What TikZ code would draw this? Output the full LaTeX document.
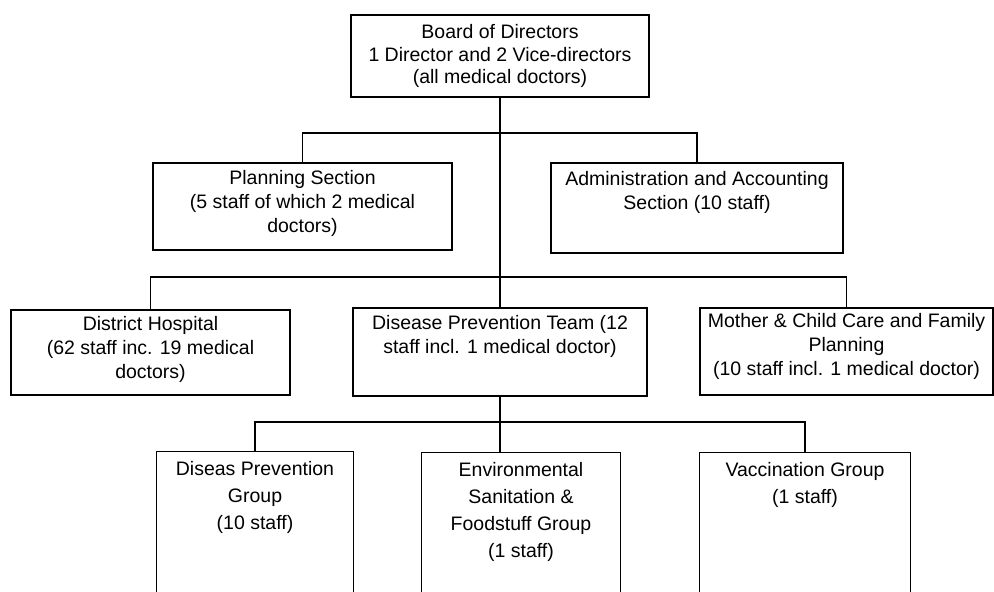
\documentclass[tikz,border=0pt]{standalone}
\usepackage{fontspec}
\setmainfont{Liberation Sans}
\begin{document}
\begin{tikzpicture}[x=1pt,y=-1pt,
  box/.style={draw=black,line width=1.3pt,rectangle,inner sep=0pt},
  openbox/.style={draw=none,rectangle,inner sep=0pt},
  conn/.style={draw=black,line width=1.2pt},
  lbl/.style={align=center,inner sep=0pt,anchor=north,font=\fontsize{19.5}{24}\selectfont},
  lblb/.style={lbl,font=\fontsize{19.5}{27}\selectfont}]
\useasboundingbox[fill=white] (0,0) rectangle (994,592);
% boxes
\node[box,minimum width=298pt,minimum height=82pt] (board) at (500,56) {};
\node[box,minimum width=299pt,minimum height=87pt] (plan) at (302.5,206.5) {};
\node[box,minimum width=292pt,minimum height=90pt] (admin) at (697,208) {};
\node[box,minimum width=279pt,minimum height=85pt] (dh) at (150.5,352.5) {};
\node[box,minimum width=294pt,minimum height=88pt] (team) at (500,352) {};
\node[box,minimum width=293pt,minimum height=87pt] (mc) at (846.5,351.5) {};
\node[openbox,minimum width=196pt,minimum height=160pt] (dpg) at (255,532) {};
\node[openbox,minimum width=198pt,minimum height=160pt] (env) at (521,533) {};
\node[openbox,minimum width=210pt,minimum height=160pt] (vac) at (805,533) {};
\draw[box] (dpg.south west) |- (dpg.north east) -- (dpg.south east);
\draw[box] (env.south west) |- (env.north east) -- (env.south east);
\draw[box] (vac.south west) |- (vac.north east) -- (vac.south east);
% texts
\node[lbl,font=\fontsize{19.5}{22.5}\selectfont] (tboard) at ([yshift=-10pt]board.north) {Board of Directors\\1 Director and 2 Vice-directors\\(all medical doctors)};
\node[lbl] (tplan) at ([yshift=-8pt]plan.north) {Planning Section\\(5 staff of which 2 medical\\doctors)};
\node[lbl] (tadmin) at ([yshift=-9pt]admin.north) {Administration and Accounting\\Section (10 staff)};
\node[lbl] (tdh) at ([yshift=-7pt]dh.north) {District Hospital\\(62 staff inc. 19 medical\\doctors)};
\node[lbl] (tteam) at ([yshift=-8pt]team.north) {Disease Prevention Team (12\\staff incl. 1 medical doctor)};
\node[lbl] (tmc) at ([yshift=-6pt]mc.north) {Mother \& Child Care and Family\\Planning\\(10 staff incl. 1 medical doctor)};
\node[lblb] (tdpg) at ([yshift=-9pt]dpg.north) {Diseas Prevention\\Group\\(10 staff)};
\node[lblb] (tenv) at ([yshift=-9pt]env.north) {Environmental\\Sanitation \&\\Foodstuff Group\\(1 staff)};
\node[lblb] (tvac) at ([yshift=-9pt]vac.north) {Vaccination Group\\(1 staff)};
% connectors
\coordinate (b2) at (500,133);
\coordinate (b3) at (500,277);
\coordinate (b4) at (500,422);
\draw[conn] (board.south) -- (team.north);
\draw[conn] (plan.north) |- (b2) -| (admin.north);
\draw[conn] (dh.north) |- (b3) -| (mc.north);
\draw[conn] (team.south) -- (team.south |- env.north);
\draw[conn] (dpg.north) |- (b4) -| (vac.north);
\end{tikzpicture}
\end{document}
